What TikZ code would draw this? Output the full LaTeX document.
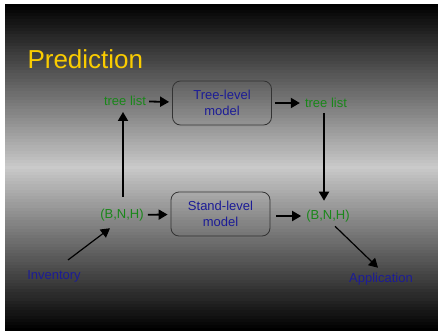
\documentclass[tikz,border=0pt]{standalone}
\usepackage{fontspec}
\setmainfont{Liberation Sans}
\usetikzlibrary{arrows.meta,positioning}
\definecolor{titleyellow}{RGB}{250,204,0}
\definecolor{vargreen}{RGB}{25,135,25}
\definecolor{modelblue}{RGB}{28,28,150}
\definecolor{midgray}{RGB}{202,202,202}

\begin{document}
\begin{tikzpicture}[x=1pt, y=-1pt,
  model/.style = {draw=black!80, line width=0.8pt, rounded corners=8pt,
    minimum width=99pt, minimum height=44pt, align=center,
    text=modelblue, font=\fontsize{13}{15.5}\selectfont},
  var/.style = {text=vargreen, font=\fontsize{13}{15}\selectfont, inner sep=1pt},
  ext/.style = {text=modelblue, font=\fontsize{13}{15}\selectfont, inner sep=1pt},
  flow/.style = {line width=1.8pt, -{Triangle[length=9pt,width=10pt]}},
  side/.style = {line width=1.2pt, -{Triangle[length=9pt,width=10pt]}}]
\useasboundingbox (0,0) rectangle (438,332);
\fill[white] (0,0) rectangle (438,332);
% background: dark at top and bottom, light in the middle
\foreach \i in {0,...,108} {
  \pgfmathtruncatemacro{\pct}{100*(1-abs(2*(\i+0.5)/109-1))}
  \fill[midgray!\pct!black] (5,4+3*\i) rectangle (438,4+3*\i+3.3);
}
\node[anchor=west, text=titleyellow, font=\fontsize{26}{30}\selectfont] (title) at (24,59) {Prediction};
\node[model] (tree) at (222,103) {Tree-level\\model};
\node[model] (stand) at (220.5,214) {Stand-level\\model};
\node[var] (tl1) at (125,101) {tree list};
\node[var] (tl2) at (326,103) {tree list};
\node[var] (bnh1) at (122,215) {(B,N,H)};
\node[var] (bnh2) at (328,216) {(B,N,H)};
\node[ext] (inv) at (54,276) {Inventory};
\node[ext] (app) at (381,279) {Application};
\draw[flow, shorten <=2pt, shorten >=3pt] (tl1) -- (tree);
\draw[flow, shorten <=3pt, shorten >=4pt] (tree.east |- tl2) -- (tl2);
\draw[flow, shorten <=4pt, shorten >=8pt] ([xshift=-2pt]tl2.south) -- ([xshift=-4pt]bnh2.north);
\draw[flow, shorten <=11pt, shorten >=5pt] ([xshift=1pt]bnh1.north) -- ([xshift=-2pt]tl1.south);
\draw[flow, shorten <=3pt, shorten >=3pt] (bnh1) -- (stand);
\draw[flow, shorten <=6pt, shorten >=4pt] (stand.east |- bnh2) -- (bnh2);
\draw[side] ([shift={(14,-9)}]inv.north) -- ([shift={(-12,6)}]bnh1.south);
\draw[side] ([shift={(7,3)}]bnh2.south) -- ([shift={(-3,-4)}]app.north);
\end{tikzpicture}
\end{document}
